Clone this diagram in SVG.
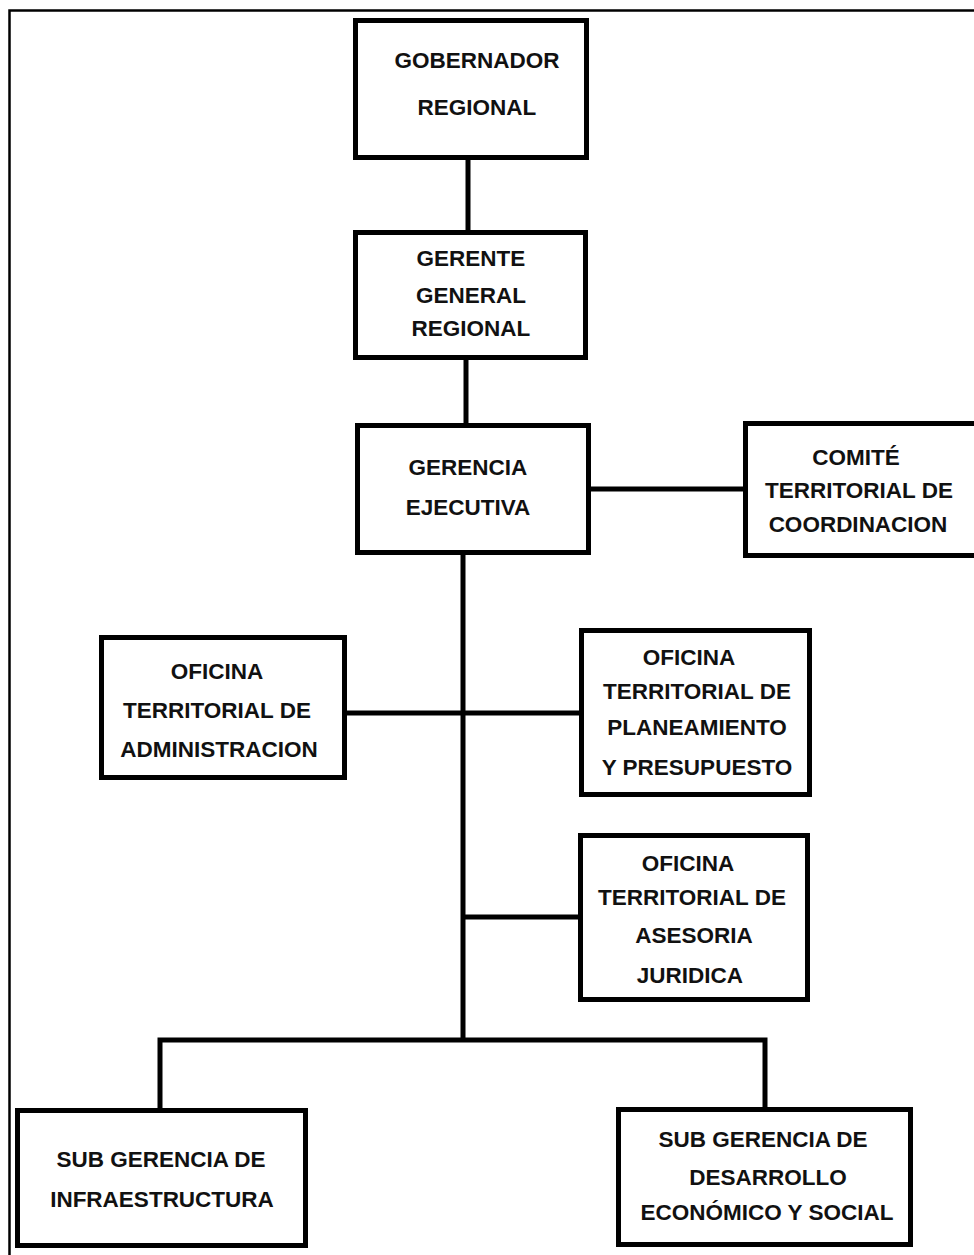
<svg xmlns="http://www.w3.org/2000/svg" width="974" height="1255" viewBox="0 0 974 1255">
<style>
.box{fill:#fff;stroke:#000;stroke-width:5}
.lbl{font-family:"Liberation Sans",Arial,sans-serif;font-weight:bold;font-size:22.5px;fill:#111;text-anchor:middle}
.con{fill:none;stroke:#000;stroke-width:5}
</style>
<rect x="0" y="0" width="974" height="1255" fill="#fff"/>
<rect id="frame" x="9.5" y="10.5" width="980" height="1260" fill="none" stroke="#000" stroke-width="2.5"/>
<g id="connectors">
<line class="con" x1="468" y1="158" x2="468" y2="232"/>
<line class="con" x1="466" y1="358" x2="466" y2="425"/>
<line class="con" x1="589" y1="489" x2="745" y2="489"/>
<line class="con" x1="463" y1="553" x2="463" y2="1040"/>
<line class="con" x1="345" y1="713" x2="581" y2="713"/>
<line class="con" x1="463" y1="917" x2="580" y2="917"/>
<polyline class="con" points="160,1110 160,1040 765,1040 765,1109"/>
</g>
<g id="gobernador">
<rect class="box" x="355.5" y="20.5" width="231" height="137"/>
<text class="lbl" x="477" y="68">GOBERNADOR</text>
<text class="lbl" x="477" y="115">REGIONAL</text>
</g>
<g id="gerente">
<rect class="box" x="355.5" y="232.5" width="230" height="125"/>
<text class="lbl" x="471" y="266">GERENTE</text>
<text class="lbl" x="471" y="303">GENERAL</text>
<text class="lbl" x="471" y="336">REGIONAL</text>
</g>
<g id="gerencia">
<rect class="box" x="357.5" y="425.5" width="231" height="127"/>
<text class="lbl" x="468" y="475">GERENCIA</text>
<text class="lbl" x="468" y="515">EJECUTIVA</text>
</g>
<g id="comite">
<rect class="box" x="745.5" y="423.5" width="240" height="132"/>
<text class="lbl" x="856" y="465">COMITÉ</text>
<text class="lbl" x="859" y="498">TERRITORIAL DE</text>
<text class="lbl" x="858" y="532">COORDINACION</text>
</g>
<g id="administracion">
<rect class="box" x="101.5" y="637.5" width="243" height="140"/>
<text class="lbl" x="217" y="679">OFICINA</text>
<text class="lbl" x="217" y="718">TERRITORIAL DE</text>
<text class="lbl" x="219" y="757">ADMINISTRACION</text>
</g>
<g id="planeamiento">
<rect class="box" x="581.5" y="630.5" width="228" height="164"/>
<text class="lbl" x="689" y="665">OFICINA</text>
<text class="lbl" x="697" y="699">TERRITORIAL DE</text>
<text class="lbl" x="697" y="735">PLANEAMIENTO</text>
<text class="lbl" x="697" y="775">Y PRESUPUESTO</text>
</g>
<g id="asesoria">
<rect class="box" x="580.5" y="835.5" width="227" height="164"/>
<text class="lbl" x="688" y="871">OFICINA</text>
<text class="lbl" x="692" y="905">TERRITORIAL DE</text>
<text class="lbl" x="694" y="943">ASESORIA</text>
<text class="lbl" x="690" y="983">JURIDICA</text>
</g>
<g id="infraestructura">
<rect class="box" x="17.5" y="1110.5" width="288" height="135"/>
<text class="lbl" x="161" y="1167">SUB GERENCIA DE</text>
<text class="lbl" x="162" y="1207">INFRAESTRUCTURA</text>
</g>
<g id="desarrollo">
<rect class="box" x="618.5" y="1109.5" width="292" height="135"/>
<text class="lbl" x="763" y="1147">SUB GERENCIA DE</text>
<text class="lbl" x="768" y="1185">DESARROLLO</text>
<text class="lbl" x="767" y="1220">ECONÓMICO Y SOCIAL</text>
</g>
</svg>
